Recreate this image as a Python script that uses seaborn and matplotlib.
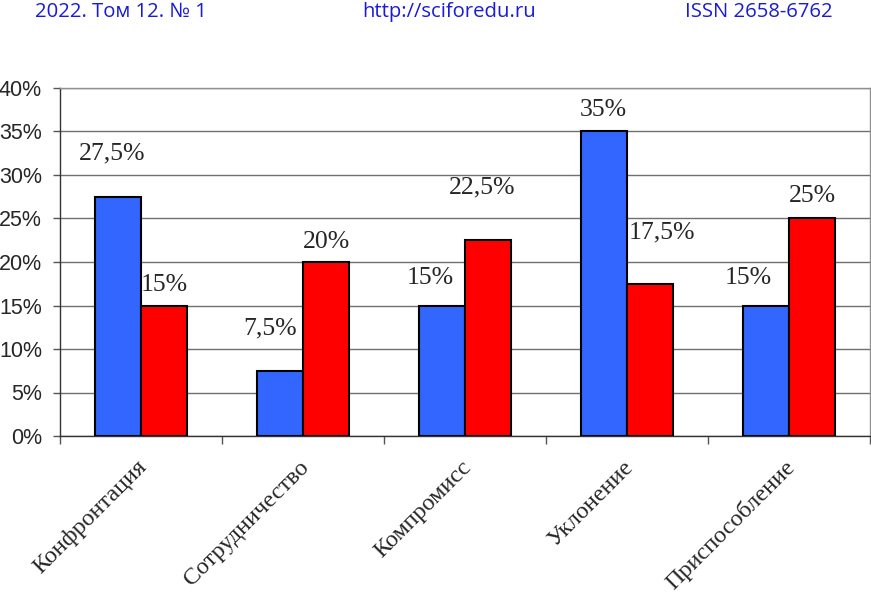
import pandas as pd
import matplotlib.pyplot as plt
import matplotlib.transforms as mtransforms
import seaborn as sns
from matplotlib.ticker import FixedLocator

# --- данные ---
categories = ['Конфронтация', 'Сотрудничество', 'Компромисс', 'Уклонение', 'Приспособление']
series_names = ['Группа 1', 'Группа 2']
values_blue = [27.5, 7.5, 15, 35, 15]
values_red = [15, 20, 22.5, 17.5, 25]
labels_blue = ['27,5%', '7,5%', '15%', '35%', '15%']
labels_red = ['15%', '20%', '22,5%', '17,5%', '25%']
yticks = [0, 5, 10, 15, 20, 25, 30, 35, 40]
ytick_labels = ['0%', '5%', '10%', '15%', '20%', '25%', '30%', '35%', '40%']

# смещения подписей (в исходнике подписи сдвинуты вручную)
offsets_blue = [(-0.037, 5.0), (-0.06, 4.9), (-0.074, 3.2), (0.0, 2.5), (-0.11, 3.2)]
offsets_red = [(0.0, 2.4), (0.0, 2.3), (-0.04, 6.1), (0.074, 5.9), (0.0, 2.6)]

df = pd.DataFrame({
    'категория': categories * 2,
    'серия': [series_names[0]] * 5 + [series_names[1]] * 5,
    'значение': values_blue + values_red,
})

sns.set_style('white')
plt.rcParams['font.family'] = ['Liberation Sans', 'DejaVu Sans']
serif = ['Liberation Serif', 'DejaVu Serif']

fig = plt.figure(figsize=(8.71, 5.93), dpi=100)
ax = fig.add_axes([60 / 871, 1 - 436 / 593, 810 / 871, 348 / 593])

sns.barplot(data=df, x='категория', y='значение', hue='серия', order=categories,
            hue_order=series_names, palette=['#3366ff', '#ff0000'], width=0.574,
            gap=0, edgecolor='black', linewidth=1.5, saturation=1, legend=False, ax=ax)

ax.set_ylim(0, 40)
ax.set_xlim(-0.5, len(categories) - 0.5)
ax.set_yticks(yticks)
ax.set_yticklabels(ytick_labels, fontsize=15.5)
ax.yaxis.grid(True, color='#707070', linewidth=1)
ax.set_axisbelow(True)
ax.tick_params(axis='y', left=True, length=5, width=1, color='#555555', pad=8)

ax.set_xticks(range(len(categories)))
ax.xaxis.set_minor_locator(FixedLocator([i - 0.5 for i in range(len(categories) + 1)]))
ax.tick_params(axis='x', which='major', length=0, pad=23)
ax.tick_params(axis='x', which='minor', bottom=True, length=6, width=1, color='#555555')
ax.set_xticklabels(categories, rotation=45, ha='right', va='baseline',
                   rotation_mode='anchor', fontsize=17.5, family=serif)
# чуть сдвигаем подписи категорий вправо (после tick_params, иначе сбросится)
shift = mtransforms.ScaledTranslation(0.07, 0, fig.dpi_scale_trans)
for tick in ax.xaxis.get_major_ticks():
    tick.label1.set_transform(tick.label1.get_transform() + shift)
ax.set_xlabel('')
ax.set_ylabel('')

for side in ['top', 'right']:
    ax.spines[side].set_color('#909090')
    ax.spines[side].set_linewidth(1)
for side in ['left', 'bottom']:
    ax.spines[side].set_color('#333333')
    ax.spines[side].set_linewidth(1)

# подписи значений
bar_w = 0.574 / 2
for i in range(len(categories)):
    dx, dy = offsets_blue[i]
    ax.text(i - bar_w / 2 + dx, values_blue[i] + dy, labels_blue[i], ha='center', va='center',
            fontsize=18.5, family=serif)
    dx, dy = offsets_red[i]
    ax.text(i + bar_w / 2 + dx, values_red[i] + dy, labels_red[i], ha='center', va='center',
            fontsize=18.5, family=serif)

# шапка журнала
head_kw = dict(fontsize=14.6, color='#1a1ad8', va='center', family=['Open Sans', 'DejaVu Sans'])
fig.text(35 / 871, 1 - 12 / 593, '2022. Том 12. № 1', ha='left', **head_kw)
fig.text(449 / 871, 1 - 12 / 593, 'http://sciforedu.ru', ha='center', **head_kw)
fig.text(833 / 871, 1 - 12 / 593, 'ISSN 2658-6762', ha='right', **head_kw)

plt.savefig('out.png', dpi=100)
